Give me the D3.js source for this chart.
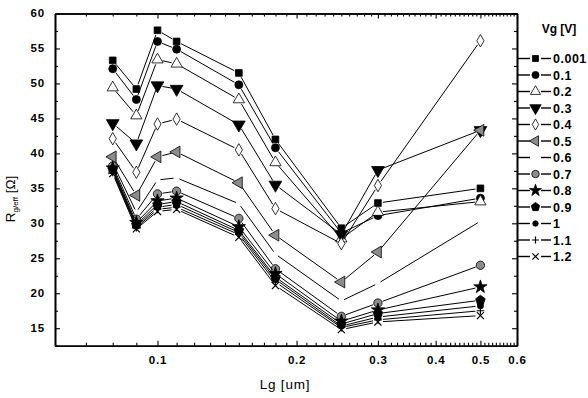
<!DOCTYPE html>
<html>
<head>
<meta charset="utf-8">
<script src="https://cdn.jsdelivr.net/npm/d3@7"></script>
<style>
  body { margin: 0; background: #fff; }
  svg { font-family: 'Liberation Sans', Arial, sans-serif; }
</style>
</head>
<body>
<svg id="chart" width="588" height="398"></svg>
<script>
// gate length (um) and Vg values
const lg = [0.08, 0.09, 0.1, 0.11, 0.15, 0.18, 0.25, 0.3, 0.5];
const vg = ['0.001', '0.1', '0.2', '0.3', '0.4', '0.5', '0.6', '0.7', '0.8', '0.9', '1', '1.1', '1.2'];

// Rg/eff [ohm] per Vg
const r0001 = [53.3, 49.2, 57.6, 56.0, 51.5, 42.0, 29.3, 32.9, 35.0];
const r01 = [52.1, 47.7, 56.0, 54.9, 49.8, 40.8, 28.6, 31.1, 33.6];
const r02 = [49.4, 45.4, 53.4, 52.8, 47.7, 38.7, 27.8, 31.6, 33.1];
const r03 = [44.3, 41.4, 49.7, 49.2, 44.1, 35.5, 28.4, 37.6, 43.3];
const r04 = [42.1, 37.3, 44.2, 44.9, 40.5, 32.1, 27.1, 35.4, 56.1];
const r05 = [39.5, 34.0, 39.5, 40.2, 35.8, 28.3, 21.6, 25.9, 43.3];
const r06 = [38.6, 31.6, 36.2, 36.5, 32.8, 25.6, 18.9, 21.4, 30.3];
const r07 = [38.2, 30.6, 34.2, 34.6, 30.7, 23.5, 16.7, 18.6, 24.0];
const r08 = [37.9, 30.1, 33.2, 33.6, 29.5, 22.8, 16.0, 17.6, 20.9];
const r09 = [37.7, 29.8, 32.7, 33.1, 29.0, 22.3, 15.6, 17.1, 19.0];
const r10 = [37.5, 29.6, 32.3, 32.7, 28.7, 22.0, 15.3, 16.6, 18.2];
const r11 = [37.3, 29.4, 32.0, 32.3, 28.4, 21.6, 15.1, 16.2, 17.5];
const r12 = [37.1, 29.2, 31.7, 32.0, 28.0, 21.1, 14.8, 15.9, 16.8];
const seriesValues = [r0001, r01, r02, r03, r04, r05, r06, r07, r08, r09, r10, r11, r12];

const xMajor = [0.1, 0.2, 0.3, 0.4, 0.5, 0.6];
const xMinor = [0.07, 0.08, 0.09].concat(d3.range(11, 60).filter(v => v % 10 !== 0).map(v => v / 100));
const yMajor = [15, 20, 25, 30, 35, 40, 45, 50, 55, 60];
const yMinor = [12.5, 17.5, 22.5, 27.5, 32.5, 37.5, 42.5, 47.5, 52.5, 57.5];

const svg = d3.select('#chart');
const plot = { left: 55, right: 517, top: 13.5, bottom: 345.7 };

const x = d3.scaleLog().domain([0.06, 0.6]).range([plot.left, plot.right]);
const y = d3.scaleLinear().domain([12.5, 60]).range([plot.bottom, plot.top]);

// custom marker shapes
const symPentagon = {
  draw(ctx, size) {
    const r = Math.sqrt(size / 2.378);
    for (let i = 0; i < 5; i += 1) {
      const a = -Math.PI / 2 + (i * 2 * Math.PI) / 5;
      if (i === 0) ctx.moveTo(r * Math.cos(a), r * Math.sin(a));
      else ctx.lineTo(r * Math.cos(a), r * Math.sin(a));
    }
    ctx.closePath();
  },
};
const symPlus = {
  draw(ctx, size) {
    const r = Math.sqrt(size) / 2;
    ctx.moveTo(-r, 0); ctx.lineTo(r, 0);
    ctx.moveTo(0, -r); ctx.lineTo(0, r);
  },
};
const symTimes = {
  draw(ctx, size) {
    const r = Math.sqrt(size) / 2;
    ctx.moveTo(-r, -r); ctx.lineTo(r, r);
    ctx.moveTo(-r, r); ctx.lineTo(r, -r);
  },
};

const grey = '#8c8c8c';
const styles = [
  { type: d3.symbolSquare, size: 45, fill: '#000', rot: 0 },
  { type: d3.symbolCircle, size: 50, fill: '#000', rot: 0 },
  { type: d3.symbolTriangle, size: 55, fill: '#fff', rot: 0 },
  { type: d3.symbolTriangle, size: 70, fill: '#000', rot: 180 },
  { type: d3.symbolDiamond, size: 45, fill: '#fff', rot: 0 },
  { type: d3.symbolTriangle, size: 60, fill: grey, rot: -90 },
  { type: null },
  { type: d3.symbolCircle, size: 55, fill: grey, rot: 0 },
  { type: d3.symbolStar, size: 55, fill: '#000', rot: 0 },
  { type: symPentagon, size: 60, fill: '#000', rot: 0 },
  { type: d3.symbolCircle, size: 30, fill: '#000', rot: 0 },
  { type: symPlus, size: 60, fill: 'none', rot: 0 },
  { type: symTimes, size: 50, fill: 'none', rot: 0 },
];

function shorten(p, q, g) {
  const dx = q[0] - p[0];
  const dy = q[1] - p[1];
  const len = Math.hypot(dx, dy);
  const ux = dx / len;
  const uy = dy / len;
  return [p[0] + ux * g, p[1] + uy * g, q[0] - ux * g, q[1] - uy * g];
}

function drawSymbol(sel, st) {
  if (!st.type) return;
  const open = st.fill === 'none';
  sel.append('path')
    .attr('d', d3.symbol().type(st.type).size(st.size)())
    .attr('transform', d => `translate(${d[0]},${d[1]}) rotate(${st.rot})`)
    .attr('fill', open ? 'none' : st.fill)
    .attr('stroke', '#000')
    .attr('stroke-width', open ? 1.2 : 0.8);
}

// axes (ticks pointing inward)
const fmt = d => String(d);
svg.append('g').attr('transform', `translate(0,${plot.bottom})`)
  .call(d3.axisBottom(x).tickValues(xMinor).tickSize(-3).tickSizeOuter(0).tickFormat(''));
const gx = svg.append('g').attr('transform', `translate(0,${plot.bottom})`)
  .call(d3.axisBottom(x).tickValues(xMajor).tickSize(-5).tickSizeOuter(0).tickPadding(10).tickFormat(fmt));
svg.append('g').attr('transform', `translate(0,${plot.top})`)
  .call(d3.axisTop(x).tickValues(xMinor).tickSize(-3).tickSizeOuter(0).tickFormat(''));
svg.append('g').attr('transform', `translate(0,${plot.top})`)
  .call(d3.axisTop(x).tickValues(xMajor).tickSize(-5).tickSizeOuter(0).tickFormat(''));

svg.append('g').attr('transform', `translate(${plot.left},0)`)
  .call(d3.axisLeft(y).tickValues(yMinor).tickSize(-3).tickSizeOuter(0).tickFormat(''));
const gy = svg.append('g').attr('transform', `translate(${plot.left},0)`)
  .call(d3.axisLeft(y).tickValues(yMajor).tickSize(-5).tickSizeOuter(0).tickPadding(10).tickFormat(fmt));
svg.append('g').attr('transform', `translate(${plot.right},0)`)
  .call(d3.axisRight(y).tickValues(yMinor).tickSize(-3).tickSizeOuter(0).tickFormat(''));
svg.append('g').attr('transform', `translate(${plot.right},0)`)
  .call(d3.axisRight(y).tickValues(yMajor).tickSize(-5).tickSizeOuter(0).tickFormat(''));

svg.selectAll('.domain').attr('stroke', '#000').attr('stroke-width', 1.6);
svg.selectAll('.tick line').attr('stroke', '#000').attr('stroke-width', 1.1);
[gx, gy].forEach(g => g.selectAll('text')
  .attr('font-family', "'Liberation Sans', Arial, sans-serif")
  .attr('font-size', 11.5).attr('font-weight', 'bold')
  .attr('letter-spacing', 0.8).attr('fill', '#000'));
gy.selectAll('text').attr('dy', '0.28em');

// series
const gSeries = svg.append('g');
seriesValues.forEach((vals, i) => {
  const st = styles[i];
  const pts = vals.map((v, j) => [x(lg[j]), y(v)]);
  const gap = st.type ? 5 : 3;
  const g = gSeries.append('g');
  g.selectAll('line')
    .data(d3.pairs(pts).map(([p, q]) => shorten(p, q, gap)))
    .join('line')
    .attr('x1', d => d[0]).attr('y1', d => d[1])
    .attr('x2', d => d[2]).attr('y2', d => d[3])
    .attr('stroke', '#000')
    .attr('stroke-width', 1);
  const gm = g.selectAll('g.pt').data(pts).join('g').attr('class', 'pt');
  drawSymbol(gm, st);
});

// axis titles
svg.append('text')
  .attr('x', 285).attr('y', 389)
  .attr('text-anchor', 'middle')
  .attr('font-size', 13.5).attr('letter-spacing', 0.8)
  .text('Lg [um]');

const yt = svg.append('text')
  .attr('transform', 'translate(15,199) rotate(-90)')
  .attr('text-anchor', 'middle')
  .attr('font-size', 13.5);
yt.append('tspan').text('R');
yt.append('tspan').attr('font-size', 8).attr('dy', 3).text('g/eff');
yt.append('tspan').attr('dy', -3).text(' [Ω]');

// legend
const legend = svg.append('g');
legend.append('text')
  .attr('x', 559).attr('y', 33)
  .attr('text-anchor', 'middle')
  .attr('font-size', 12).attr('font-weight', 'bold')
  .text('Vg [V]');

const entry = legend.selectAll('g.entry')
  .data(vg)
  .join('g')
  .attr('class', 'entry')
  .attr('transform', (d, i) => `translate(0,${58.5 + i * 16.5})`);
entry.append('line')
  .attr('x1', 518).attr('x2', 530).attr('y1', 0).attr('y2', 0)
  .attr('stroke', '#000').attr('stroke-width', 1.4);
entry.append('line')
  .attr('x1', 541).attr('x2', 551).attr('y1', 0).attr('y2', 0)
  .attr('stroke', '#000').attr('stroke-width', 1.4);
entry.each(function (d, i) {
  const st = styles[i];
  if (!st.type) return;
  const m = d3.select(this).append('g').datum([535.5, 0]);
  drawSymbol(m, { ...st, size: st.size * 0.8 });
});
entry.append('text')
  .attr('x', 553).attr('y', 0).attr('dy', '0.36em')
  .attr('font-size', 12.5).attr('font-weight', 'bold')
  .attr('letter-spacing', 0.5)
  .text(d => d);
</script>
</body>
</html>
